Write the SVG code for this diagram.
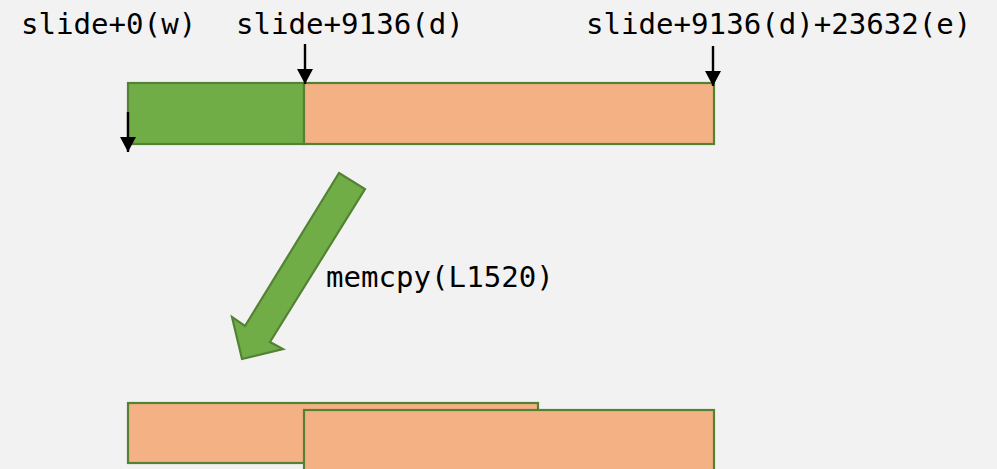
<svg xmlns="http://www.w3.org/2000/svg" width="997" height="469" viewBox="0 0 997 469">
<style>
.bg{fill:#F2F2F2}
.seg{stroke:#548235;stroke-width:2.2}
.green{fill:#70AD47}
.orange{fill:#F4B183}
.lbl{font-family:"DejaVu Sans Mono","Liberation Mono",monospace;font-size:29.1px;fill:#000}
.ptr{stroke:#000;stroke-width:2.4;fill:none}
</style>
<defs>
<marker id="ah" markerUnits="userSpaceOnUse" markerWidth="15" markerHeight="16" refX="15" refY="8" orient="auto" viewBox="0 0 15 16">
<path d="M0,0 L15,8 L0,16 Z" fill="#000"/>
</marker>
</defs>
<rect class="bg" x="0" y="0" width="997" height="469"/>
<g id="labels">
<text class="lbl" x="21" y="34">slide+0(w)</text>
<text class="lbl" x="236" y="34">slide+9136(d)</text>
<text class="lbl" x="586" y="34">slide+9136(d)+23632(e)</text>
</g>
<g id="src-w">
<rect class="seg green" x="128" y="83" width="176" height="61"/>
</g>
<g id="src-d">
<rect class="seg orange" x="304" y="83" width="410" height="61"/>
</g>
<g id="copy-arrow">
<polygon points="339,173 365,189 270,342 283,349 242,359 232,317 245,326" fill="#70AD47" stroke="#548235" stroke-width="2.2" stroke-linejoin="miter"/>
<text class="lbl" x="326" y="287">memcpy(L1520)</text>
</g>
<g id="dst-w">
<rect class="seg orange" x="128" y="403" width="410" height="60"/>
</g>
<g id="dst-d">
<rect class="seg orange" x="304" y="410" width="410" height="70"/>
</g>
<g id="connectors">
<line class="ptr" x1="305" y1="44" x2="305" y2="84" marker-end="url(#ah)"/>
<line class="ptr" x1="713" y1="46" x2="713" y2="86" marker-end="url(#ah)"/>
<line class="ptr" x1="128" y1="112" x2="128" y2="152" marker-end="url(#ah)"/>
</g>
</svg>
